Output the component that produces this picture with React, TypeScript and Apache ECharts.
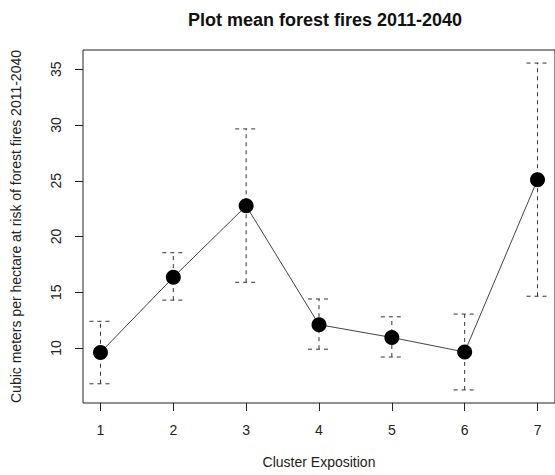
import React, { useEffect, useRef } from "react";
import * as echarts from "echarts";

const clusters = [1, 2, 3, 4, 5, 6, 7];
const means = [9.6, 16.35, 22.75, 12.1, 10.95, 9.65, 25.1];
const upper = [12.4, 18.55, 29.65, 14.4, 12.8, 13.05, 35.55];
const lower = [6.8, 14.3, 15.9, 9.9, 9.2, 6.25, 14.65];
const xTicks = [1, 2, 3, 4, 5, 6, 7];
const yTicks = [10, 15, 20, 25, 30, 35];

const FONT = "'Liberation Sans', Arial, sans-serif";

export default function App() {
  const ref = useRef<HTMLDivElement>(null);
  useEffect(() => {
    if (!ref.current) return;
    const chart = echarts.init(ref.current, null, { renderer: "svg" });
    const errData = clusters.map((c, i) => [c, lower[i], upper[i]]);
    const lineData = clusters.map((c, i) => [c, means[i]]);
    chart.setOption({
      animation: false,
      backgroundColor: "#ffffff",
      textStyle: { fontFamily: FONT },
      title: {
        text: "Plot mean forest fires 2011-2040",
        left: 320,
        textAlign: "center",
        top: 6,
        textStyle: { fontFamily: FONT, fontSize: 18, fontWeight: "bold", color: "#111" },
      },
      grid: {
        left: 83,
        right: 0,
        top: 50,
        bottom: 72,
        show: true,
        borderColor: "#222",
        borderWidth: 1,
        containLabel: false,
        outerBoundsMode: "none",
      },
      xAxis: {
        type: "value",
        min: 0.76,
        max: 7.24,
        name: "Cluster Exposition",
        nameLocation: "middle",
        nameGap: 52,
        nameTextStyle: { fontFamily: FONT, fontSize: 14, color: "#222" },
        axisLine: { show: false },
        splitLine: { show: false },
        axisTick: { show: true, length: 8, customValues: xTicks, lineStyle: { color: "#222" } },
        axisLabel: { customValues: xTicks, margin: 20, fontFamily: FONT, fontSize: 14, color: "#222" },
      },
      yAxis: {
        type: "value",
        min: 5.078,
        max: 36.722,
        name: "Cubic meters per hectare at risk of forest fires 2011-2040",
        nameLocation: "middle",
        nameRotate: 90,
        nameGap: 60,
        nameTextStyle: { fontFamily: FONT, fontSize: 14, color: "#222" },
        axisLine: { show: false },
        splitLine: { show: false },
        axisTick: { show: true, length: 8, customValues: yTicks, lineStyle: { color: "#222" } },
        axisLabel: { customValues: yTicks, rotate: 90, margin: 20, fontFamily: FONT, fontSize: 14, color: "#222" },
      },
      series: [
        {
          type: "custom",
          data: errData,
          z: 1,
          renderItem: (params: any, api: any) => {
            const x = api.value(0);
            const pLo = api.coord([x, api.value(1)]);
            const pHi = api.coord([x, api.value(2)]);
            const style = { stroke: "#333", lineWidth: 1, lineDash: [4, 4], fill: null };
            return {
              type: "group",
              children: [
                { type: "line", shape: { x1: pLo[0], y1: pLo[1], x2: pHi[0], y2: pHi[1] }, style },
                { type: "line", shape: { x1: pHi[0] - 11, y1: pHi[1], x2: pHi[0] + 11, y2: pHi[1] }, style },
                { type: "line", shape: { x1: pLo[0] - 11, y1: pLo[1], x2: pLo[0] + 11, y2: pLo[1] }, style },
              ],
            };
          },
        },
        {
          type: "line",
          data: lineData,
          z: 2,
          symbol: "circle",
          symbolSize: 15,
          lineStyle: { color: "#444", width: 1 },
          itemStyle: { color: "#000", borderWidth: 0 },
        },
      ],
    });
    return () => chart.dispose();
  }, []);
  return (
    <div
      ref={ref}
      style={{ position: "fixed", left: 0, top: 0, width: 555, height: 475, background: "#fff" }}
    />
  );
}
